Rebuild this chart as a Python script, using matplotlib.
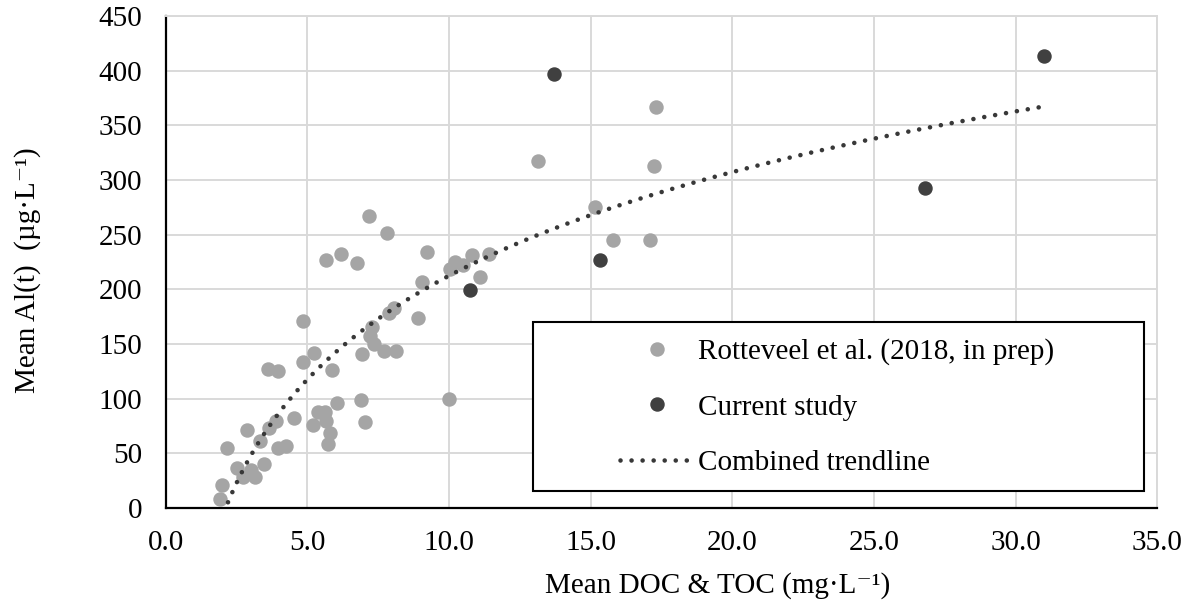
import numpy as np
import matplotlib.pyplot as plt
from matplotlib.patches import Rectangle

plt.rcParams['font.family'] = ['Liberation Serif', 'DejaVu Serif']

# Rotteveel et al. (2018, in prep)
rot_doc = [1.92, 2.0, 2.18, 2.51, 2.72, 3.0, 3.15, 2.86, 3.34, 3.47,
           3.65, 3.91, 3.98, 4.26, 3.63, 3.97, 4.55, 4.85, 4.85, 5.25,
           5.22, 5.38, 5.62, 5.68, 5.8, 5.72, 5.88, 6.05, 5.68, 6.2,
           6.77, 7.17, 7.8, 6.9, 7.05, 6.93, 7.3, 7.2, 7.36, 7.7,
           8.13, 7.9, 8.05, 8.9, 9.05, 9.24, 10.0, 10.05, 10.2, 10.5,
           10.8, 11.1, 11.4, 13.15, 15.15, 15.8, 17.1, 17.25, 17.3]
rot_al = [8, 21, 55, 37, 28, 35, 28, 71, 61, 40,
          73, 80, 55, 57, 127, 125, 82, 134, 171, 142,
          76, 88, 88, 80, 69, 59, 126, 96, 227, 232,
          224, 267, 252, 99, 79, 141, 166, 157, 150, 144,
          144, 178, 183, 174, 207, 234, 100, 219, 225, 222,
          231, 211, 232, 317, 275, 245, 245, 313, 367]

# current study
cur_doc = [10.73, 13.7, 15.35, 26.8, 31.0]
cur_al = [199, 397, 227, 293, 413]

# logarithmic trendline over both data sets
all_doc = np.array(rot_doc + cur_doc)
all_al = np.array(rot_al + cur_al)
slope, icpt = np.polyfit(np.log(all_doc), all_al, 1)
xt = np.linspace(all_doc.min(), all_doc.max(), 300)
yt = slope * np.log(xt) + icpt

fs = 21
fig = plt.figure(figsize=(11.9, 6.09), dpi=100)
ax = fig.add_axes([0.1391, 0.1658, 0.8334, 0.8079])

ax.plot(rot_doc, rot_al, 'o', color='#A5A5A5', markersize=9.4, zorder=3,
        label='Rotteveel et al. (2018, in prep)')
ax.plot(cur_doc, cur_al, 'o', color='#404040', markersize=9.4, zorder=3,
        label='Current study')
ax.plot(xt, yt, color='#383838', linewidth=3.3, linestyle=(0, (0.01, 2.4)),
        dash_capstyle='round', zorder=4, label='Combined trendline')

ax.set_xlim(0, 35)
ax.set_ylim(0, 450)
ax.set_xticks(np.arange(0, 35.1, 5))
ax.set_xticklabels([f'{v:.1f}' for v in np.arange(0, 35.1, 5)])
ax.set_yticks(np.arange(0, 451, 50))
ax.grid(True, color='#D9D9D9', linewidth=1.4)
ax.set_axisbelow(True)
ax.tick_params(axis='both', length=0, labelsize=fs)
ax.tick_params(axis='y', pad=17)
ax.tick_params(axis='x', pad=16)

for s in ['top', 'right']:
    ax.spines[s].set_color('#D9D9D9')
    ax.spines[s].set_linewidth(1.4)
for s in ['left', 'bottom']:
    ax.spines[s].set_color('black')
    ax.spines[s].set_linewidth(1.6)

ax.set_xlabel('Mean DOC & TOC (mg·L⁻¹)', fontsize=fs)
ax.xaxis.set_label_coords(0.557, -0.158)
ax.xaxis.label.set_va('center')
ax.set_ylabel('Mean Al(t)  (µg·L⁻¹)', fontsize=fs)
ax.yaxis.set_label_coords(-0.1396, 0.484)
ax.yaxis.label.set_va('center')

# legend box
ax.add_patch(Rectangle((0.3705, 0.0346), 0.616, 0.3435, transform=ax.transAxes,
                       facecolor='white', edgecolor='black', linewidth=1.5,
                       zorder=5))
leg = ax.legend(loc='center left', bbox_to_anchor=(0.458, 0.205), frameon=False,
                fontsize=fs, handlelength=2.55, handletextpad=0.12,
                borderpad=0, labelspacing=1.0, borderaxespad=0)
leg.set_zorder(6)

fig.savefig('out.png', dpi=100)
